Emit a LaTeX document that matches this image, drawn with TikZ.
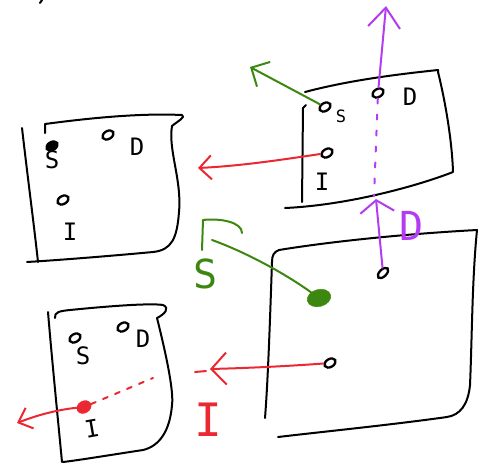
\documentclass[tikz,border=0pt]{standalone}
\usepackage{fontspec}
\setmonofont{DejaVu Sans Mono}
\usetikzlibrary{shapes.geometric,arrows.meta}
\definecolor{penred}{RGB}{235,40,50}
\definecolor{pengreen}{RGB}{60,135,15}
\definecolor{penviolet}{RGB}{180,60,240}
\tikzset{
  pen/.style={line width=2pt, line cap=round, line join=round},
  sheet/.style={pen, black},
  hole/.style={draw, ellipse, line width=2.3pt, minimum width=12pt, minimum height=8pt, inner sep=0pt, rotate=30},
  smallhole/.style={hole, minimum width=13pt, minimum height=7pt, rotate=15},
  blob/.style={ellipse, fill=pengreen, draw=pengreen, minimum width=24pt, minimum height=17pt, inner sep=0pt, rotate=15},
  reddot/.style={ellipse, fill=penred, draw=penred, minimum width=15pt, minimum height=12pt, inner sep=0pt, rotate=30},
  lbl/.style={font=\ttfamily\fontsize{24}{24}\selectfont, inner sep=0pt},
  smalllbl/.style={font=\ttfamily\fontsize{17}{17}\selectfont, inner sep=0pt},
  biglbl/.style={font=\ttfamily\fontsize{40}{40}\selectfont, inner sep=0pt},
}
\begin{document}
\begin{tikzpicture}[x=1pt,y=-1pt]
\useasboundingbox (0,0) rectangle (479,467);
\draw[sheet] (40,3) -- (42,0);
% ---- sheet 1 (top left)
\draw[sheet] (22,128) .. controls (28,180) and (34,225) .. (38,262);
\draw[sheet] (45,133) -- (45,124) .. controls (90,118) and (140,113) .. (182,115) .. controls (186,117) and (178,121) .. (172,126) .. controls (168,150) and (182,180) .. (179,212) .. controls (177,238) and (172,250) .. (153,252) .. controls (110,256) and (60,260) .. (27,262);
\node[hole, fill=black] (b1s) at (52,146) {};
\node[lbl] (b1S) at (52,160) {S};
\node[hole] (b1d) at (108,135) {};
\node[lbl] (b1D) at (137,147) {D};
\node[hole] (b1i) at (63,200) {};
\node[lbl] (b1I) at (70,232) {I};
% ---- sheet 2 (top right)
\draw[sheet] (306,105) -- (303,108) -- (302,202);
\draw[sheet] (305,92) .. controls (350,80) and (400,74) .. (438,70) -- (438,73);
\draw[sheet] (438,72) .. controls (445,100) and (452,140) .. (453,172) .. controls (420,185) and (350,205) .. (285,208);
\node[hole] (b2s) at (325,107) {};
\node[smalllbl] (b2S) at (341,116) {S};
\node[hole] (b2d) at (378,93) {};
\node[lbl] (b2D) at (410,97) {D};
\node[hole] (b2i) at (327,153) {};
\node[lbl] (b2I) at (322,182) {I};
% ---- sheet 4 (bottom right)
\draw[sheet] (279,250) .. controls (274,252) and (272,255) .. (272,262) .. controls (270,320) and (268,380) .. (265,418);
\draw[sheet] (279,250) .. controls (340,240) and (420,233) .. (477,230) .. controls (472,280) and (472,340) .. (470,385) .. controls (468,405) and (460,415) .. (447,417) .. controls (390,425) and (320,432) .. (278,437);
\node[smallhole] (b4d) at (383,273) {};
\node[blob] (b4s) at (319,298) {};
\node[hole] (b4i) at (330,363) {};
% ---- sheet 3 (bottom left)
\draw[sheet] (48,312) .. controls (52,360) and (58,420) .. (62,462);
\draw[sheet] (55,318) .. controls (54,312) and (60,311) .. (70,310) .. controls (110,306) and (150,303) .. (163,305) .. controls (170,308) and (165,314) .. (157,318) .. controls (165,350) and (174,390) .. (172,405) .. controls (170,430) and (160,446) .. (143,450) .. controls (110,455) and (80,460) .. (63,462);
\node[hole] (b3s) at (75,338) {};
\node[lbl] (b3S) at (83,356) {S};
\node[hole] (b3d) at (123,327) {};
\node[lbl] (b3D) at (143,339) {D};
\node[reddot] (b3i) at (84,407) {};
\node[lbl, rotate=10] (b3I) at (92,429) {I};
% ---- arrows
\coordinate (g1) at (250,67);
\draw[pen, pengreen, -{Straight Barb[length=14pt,width=28pt]}] (b2s) -- (g1);
\coordinate (r1) at (198,168);
\draw[pen, penred, -{Straight Barb[length=12pt,width=24pt]}] (b2i) .. controls (280,160) and (240,166) .. (r1);
\coordinate (p1) at (386,6);
\draw[pen, penviolet, -{Straight Barb[length=20pt,width=32pt]}] (b2d) -- (p1);
\coordinate (p2) at (374,196);
\draw[pen, penviolet, dash pattern=on 5pt off 11pt] (b2d) -- (p2);
\coordinate (p3) at (376,199);
\draw[pen, penviolet, -{Straight Barb[length=12pt,width=34pt]}] (b4d) -- (p3);
\node[biglbl, penviolet] (pD) at (412,226) {D};
% green arrow with hand-made head
\coordinate (g2) at (212,240);
\draw[pen, pengreen] (b4s) .. controls (280,270) and (240,250) .. (g2);
\draw[pen, pengreen] (202,250) -- (203,220) .. controls (220,218) and (242,222) .. (242,233);
\node[biglbl, pengreen] (gS) at (206,274) {S};
% red arrow, sheet 4
\coordinate (r2) at (210,369);
\draw[pen, penred, -{Straight Barb[length=15pt,width=32pt]}] (b4i) .. controls (290,366) and (250,368) .. (r2);
\draw[pen, penred] (195,372) -- (206,371);
\node[font=\ttfamily\fontsize{46}{46}\selectfont, inner sep=0pt, penred] (rI) at (208,420) {I};
% red arrow, sheet 3
\coordinate (r3) at (17,423);
\draw[pen, penred, -{Straight Barb[length=12pt,width=22pt]}] (b3i) .. controls (55,410) and (35,416) .. (r3);
\coordinate (r4) at (153,378);
\draw[pen, penred, dash pattern=on 5pt off 8pt] (b3i) -- (r4);
\end{tikzpicture}
\end{document}
